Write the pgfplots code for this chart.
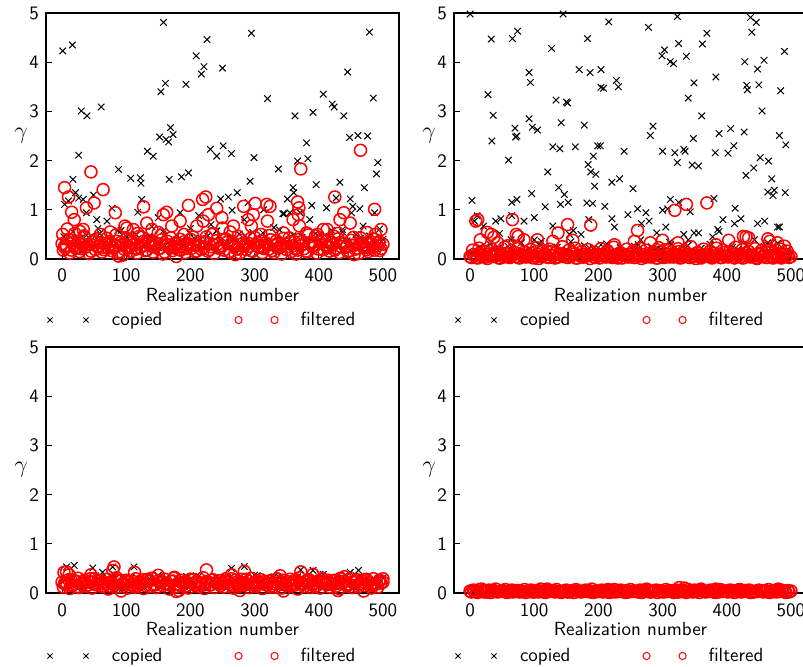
\documentclass[border=0pt]{standalone}
\usepackage{pgfplots}
\pgfplotsset{compat=1.18}
\pgfplotsset{
  gstyle/.style={
    scale only axis, width=176.5pt, height=123pt,
    xmin=-25, xmax=525, ymin=0, ymax=5,
    xtick={0,100,...,500}, ytick={0,1,...,5},
    tick pos=left, tick align=inside,
    major tick length=3pt,
    every tick/.style={black, line width=0.5pt},
    axis line style={line width=0.9pt},
    clip=false,
    /pgf/number format/assume math mode=true,
    tick label style={font=\fontsize{9.5}{11}\selectfont\sffamily},
    xticklabel style={anchor=base, yshift=-11.5pt},
    xlabel={Realization number},
    ylabel={$\gamma$},
    every axis x label/.style={at={(axis description cs:0.5,0)}, anchor=base, yshift=-21pt, font=\fontsize{9.5}{11}\selectfont\sffamily},
    every axis y label/.style={at={(axis description cs:0,0.5)}, anchor=center, xshift=-12.5pt, font=\fontsize{13}{15}\selectfont},
    legend columns=2,
    legend style={draw=none, fill=none, inner sep=0pt, outer sep=0pt, anchor=west, font=\fontsize{9.5}{11}\selectfont\sffamily, nodes={inner sep=0pt}, /tikz/every even column/.append style={column sep=36pt}},
  },
  cop/.style={only marks, mark=x, mark size=2.3pt, black, mark options={line width=0.5pt}},
  fil/.style={only marks, mark=o, mark size=3pt, red, mark options={line width=0.75pt}},
}
\pgfplotsset{legend image code/.code={\path[#1, draw=none, mark size=1.8pt, mark options={line width=0.5pt}] plot coordinates {(0pt,0pt) (18pt,0pt)}; \path[draw=none, fill=none] (-2pt,0pt) -- (31pt,0pt);}}
\begin{document}
\begin{tikzpicture}[x=1pt,y=1pt]
% ---------------- top left ----------------
\begin{axis}[gstyle, at={(23pt,-6.5pt)}, anchor=north west, legend style={at={(0,-0.248)}}]
\addplot[cop] coordinates {
(3,.45)(10,.28)(17,.55)(24,.33)(31,.19)(38,.48)(45,.38)(52,.26)(59,.52)(66,.41)
(73,.22)(80,.36)(87,.58)(94,.30)(101,.44)(108,.17)(115,.50)(122,.35)(129,.27)(136,.46)
(143,.40)(150,.23)(157,.56)(164,.32)(171,.15)(178,.49)(185,.37)(192,.29)(199,.53)(206,.42)
(213,.20)(220,.34)(227,.47)(234,.25)(241,.57)(248,.39)(255,.31)(262,.43)(269,.18)(276,.51)
(283,.36)(290,.28)(297,.54)(304,.41)(311,.24)(318,.45)(325,.33)(332,.21)(339,.59)(346,.38)
(353,.30)(360,.48)(367,.26)(374,.44)(381,.35)(388,.19)(395,.52)(402,.40)(409,.27)(416,.46)
(423,.32)(430,.23)(437,.55)(444,.37)(451,.29)(458,.50)(465,.42)(472,.16)(479,.47)(486,.34)
(493,.28)
(1,4.23)(16,4.35)(30,3.01)(39,2.91)(26,2.11)(61,3.09)(17,1.62)(88,1.82)(107,1.64)(122,1.65)
(123,1.54)(124,1.21)(133,2.19)(142,2.09)(152,2.48)(154,3.40)(158,4.81)(161,3.57)(162,2.43)(166,2.38)
(169,2.67)(173,2.53)(167,1.62)(186,1.67)(197,1.75)(193,3.55)(209,4.13)(217,3.76)(221,3.91)(226,4.46)
(231,2.23)(241,2.09)(250,3.88)(251,2.30)(264,2.14)(247,1.22)(259,1.26)(273,1.35)(265,0.99)(293,1.58)
(295,4.59)(299,2.06)(290,1.15)(320,3.26)(314,1.00)(337,1.83)(344,0.92)(346,0.92)(351,1.22)(360,1.45)
(363,2.91)(361,1.35)(367,1.99)(381,2.36)(383,2.04)(391,2.98)(396,1.51)(389,1.09)(386,0.80)(407,3.35)
(412,1.04)(421,3.15)(424,3.09)(427,1.24)(433,1.56)(439,2.91)(445,3.80)(448,2.47)(461,2.51)(449,1.22)
(453,1.07)(464,1.02)(471,1.45)(476,2.50)(479,4.61)(485,3.27)(490,1.73)(492,1.96)(487,0.94)(495,0.61)
(4,1.11)(10,1.18)(21,1.35)(26,1.24)(33,1.21)(49,1.30)(38,0.94)(54,0.80)(70,0.77)(78,1.03)
(118,0.95)(150,0.84)(184,0.94)(213,0.88)(232,0.70)(284,0.80)(313,0.53)(355,0.94)(371,0.94)(437,0.60)
(451,0.94)(469,0.67)(56,0.62)(92,0.58)(140,0.66)(200,0.62)(240,0.57)(330,0.64)(420,0.58)(500,0.40)
};
\addplot[fil] coordinates {
(0,.31)(5,.22)(10,.40)(15,.18)(20,.27)(25,.35)(30,.21)(35,.44)(40,.29)(45,.16)
(50,.38)(55,.25)(60,.33)(65,.19)(70,.42)(75,.28)(80,.23)(85,.36)(90,.15)(95,.30)
(100,.41)(105,.24)(110,.34)(115,.20)(120,.46)(125,.27)(130,.17)(135,.37)(140,.26)(145,.32)
(150,.21)(155,.39)(160,.14)(165,.29)(170,.43)(175,.25)(180,.31)(185,.18)(190,.35)(195,.22)
(200,.40)(205,.28)(210,.16)(215,.33)(220,.24)(225,.45)(230,.19)(235,.30)(240,.37)(245,.23)
(250,.27)(255,.41)(260,.15)(265,.34)(270,.26)(275,.20)(280,.38)(285,.29)(290,.32)(295,.17)
(300,.44)(305,.25)(310,.36)(315,.21)(320,.28)(325,.39)(330,.13)(335,.31)(340,.24)(345,.42)
(350,.19)(355,.35)(360,.27)(365,.22)(370,.40)(375,.30)(380,.16)(385,.33)(390,.26)(395,.47)
(400,.20)(405,.37)(410,.29)(415,.23)(420,.34)(425,.18)(430,.41)(435,.25)(440,.31)(445,.15)
(450,.38)(455,.28)(460,.22)(465,.43)(470,.27)(475,.19)(480,.36)(485,.24)(490,.32)(495,.17)(500,.30)
(2,.18)(7,.27)(12,.12)(17,.33)(22,.21)(27,.15)(32,.29)(37,.24)(42,.11)(47,.35)
(52,.19)(57,.26)(62,.14)(67,.31)(72,.22)(77,.17)(82,.28)(87,.13)(92,.34)(97,.20)
(102,.25)(107,.16)(112,.30)(117,.12)(122,.23)(127,.36)(132,.18)(137,.27)(142,.14)(147,.32)
(152,.21)(157,.10)(162,.29)(167,.24)(172,.17)(177,.33)(182,.19)(187,.26)(192,.13)(197,.31)
(202,.22)(207,.15)(212,.28)(217,.20)(222,.35)(227,.16)(232,.25)(237,.11)(242,.30)(247,.23)
(252,.18)(257,.34)(262,.14)(267,.27)(272,.21)(277,.12)(282,.32)(287,.19)(292,.26)(297,.16)
(302,.29)(307,.24)(312,.13)(317,.33)(322,.20)(327,.17)(332,.28)(337,.22)(342,.10)(347,.31)
(352,.25)(357,.15)(362,.35)(367,.18)(372,.27)(377,.21)(382,.14)(387,.30)(392,.23)(397,.12)
(402,.34)(407,.19)(412,.26)(417,.16)(422,.29)(427,.22)(432,.13)(437,.32)(442,.24)(447,.17)
(452,.28)(457,.20)(462,.11)(467,.33)(472,.25)(477,.15)(482,.30)(487,.18)(492,.27)(497,.21)
(4,.26)(14,.38)(24,.22)(34,.47)(44,.30)(54,.41)(64,.24)(74,.35)(84,.49)(94,.28)
(104,.37)(114,.21)(124,.44)(134,.32)(144,.25)(154,.48)(164,.36)(174,.23)(184,.40)(194,.29)
(204,.45)(214,.27)(224,.34)(234,.50)(244,.22)(254,.39)(264,.31)(274,.46)(284,.26)(294,.42)
(304,.33)(314,.24)(324,.48)(334,.37)(344,.28)(354,.43)(364,.21)(374,.36)(384,.49)(394,.30)
(404,.40)(414,.25)(424,.46)(434,.34)(444,.27)(454,.44)(464,.32)(474,.23)(484,.41)(494,.35)
(88,.06)(178,.05)(95,.08)(270,.09)(365,.10)(455,.09)
(4,1.45)(10,1.26)(15,0.95)(19,0.80)(45,1.77)(50,1.14)(64,1.41)(38,1.04)(8,0.61)(1,0.50)
(28,0.56)(33,0.60)(83,0.94)(98,0.67)(101,0.63)(111,0.60)(127,1.06)(132,0.73)(140,0.60)(158,0.90)
(163,0.95)(171,0.67)(184,0.77)(197,1.09)(210,0.67)(219,1.21)(224,1.26)(220,0.77)(228,0.90)(241,1.03)
(249,0.84)(250,0.63)(267,0.67)(283,1.07)(290,0.80)(298,0.90)(301,1.13)(295,0.67)(319,1.11)(324,1.07)
(320,0.77)(360,0.80)(367,1.16)(369,1.04)(368,0.90)(372,1.83)(370,0.67)(381,0.53)(407,0.60)(413,0.60)
(425,1.26)(433,0.80)(439,0.94)(449,0.73)(465,2.21)(487,1.01)(488,0.50)(497,0.60)
(20,.52)(60,.50)(75,.55)(118,.52)(150,.54)(190,.50)(235,.52)(262,.55)(310,.50)(345,.53)(398,.50)(430,.52)(475,.54)
};
\legend{copied,filtered}
\end{axis}
% ---------------- top right ----------------
\begin{axis}[gstyle, at={(227pt,-6.5pt)}, anchor=north west, legend style={at={(0,-0.248)}}]
\addplot[cop] coordinates {
(3,.12)(10,.05)(17,.22)(24,.08)(31,.30)(38,.03)(45,.17)(52,.10)(59,.26)(66,.06)
(73,.14)(80,.33)(87,.04)(94,.20)(101,.09)(108,.28)(115,.02)(122,.15)(129,.11)(136,.24)
(143,.07)(150,.19)(157,.35)(164,.05)(171,.13)(178,.27)(185,.08)(192,.21)(199,.03)(206,.16)
(213,.31)(220,.10)(227,.06)(234,.23)(241,.12)(248,.04)(255,.18)(262,.29)(269,.07)(276,.14)
(283,.25)(290,.02)(297,.20)(304,.09)(311,.34)(318,.05)(325,.16)(332,.11)(339,.27)(346,.06)
(353,.13)(360,.22)(367,.04)(374,.30)(381,.08)(388,.18)(395,.12)(402,.03)(409,.24)(416,.10)
(423,.15)(430,.28)(437,.06)(444,.19)(451,.02)(458,.26)(465,.09)(472,.14)(479,.32)(486,.05)
(493,.17)
(0,4.98)(33,4.47)(66,4.48)(74,4.63)(127,4.28)(145,4.98)(183,4.48)(216,4.82)(278,4.71)(323,4.93)
(437,4.91)(446,4.81)(439,4.61)(369,4.59)(362,4.37)(325,4.38)(303,4.25)(299,4.13)(312,4.01)(317,3.97)
(337,4.12)(490,4.22)(458,4.04)(428,4.01)(448,3.86)(92,3.79)(94,3.59)(170,3.85)(187,3.79)(204,3.85)
(204,3.49)(208,3.47)(228,3.63)(231,3.50)(383,3.70)(349,3.58)(340,3.27)(431,3.53)(432,3.44)(450,3.54)
(484,3.42)(455,3.01)(28,3.34)(36,2.92)(34,2.40)(60,2.01)(70,2.66)(71,2.48)(73,2.50)(92,2.85)
(97,2.68)(105,2.62)(134,3.23)(150,3.19)(152,3.17)(142,2.77)(129,2.28)(140,2.24)(164,2.28)(178,2.72)
(184,1.92)(188,1.77)(196,1.72)(192,2.09)(199,2.30)(203,2.30)(194,1.48)(121,1.77)(138,1.45)(147,1.31)
(153,1.15)(141,1.11)(96,1.33)(65,1.15)(73,1.21)(3,1.19)(117,1.06)(182,1.14)(191,1.13)(210,1.07)
(221,1.56)(233,1.63)(240,2.19)(254,1.43)(261,1.02)(274,0.94)(281,2.51)(285,2.70)(300,2.19)(319,2.16)
(323,1.96)(333,2.23)(335,2.19)(346,1.91)(356,1.89)(348,2.45)(361,2.91)(382,2.16)(388,2.55)(402,2.15)
(406,2.65)(411,2.30)(427,2.58)(430,1.70)(442,1.85)(452,2.06)(465,1.99)(482,2.51)(492,2.32)(470,1.63)
(464,1.36)(474,1.40)(472,1.29)(491,1.35)(380,1.23)(312,1.21)(308,1.02)(300,0.99)(325,1.15)(343,0.96)
(413,1.03)(412,0.72)(422,0.82)(394,0.80)(386,0.60)(448,0.72)(459,0.77)(479,0.65)(482,0.65)(11,0.88)
(7,0.77)(21,0.67)(40,0.77)(48,0.82)(46,0.52)(65,0.88)(84,0.77)(100,0.84)(129,0.67)(161,0.58)
(173,0.50)(185,0.80)(221,0.82)(225,0.65)(246,0.90)(267,0.72)(279,0.77)(291,0.53)(305,0.65)(333,0.50)
(340,0.39)(349,0.53)(356,0.53)(378,0.45)(388,0.56)(15,0.24)(43,0.22)(64,0.39)(100,0.39)(111,0.36)
(155,0.50)(186,0.22)(204,0.29)(256,0.26)(266,0.39)(292,0.22)(313,0.29)(360,0.22)(417,0.19)(443,0.39)
(464,0.33)(496,0.11)
};
\addplot[fil] coordinates {
(0,.05)(5,.09)(10,.03)(15,.12)(20,.07)(25,.04)(30,.10)(35,.06)(40,.14)(45,.02)
(50,.08)(55,.11)(60,.04)(65,.06)(70,.13)(75,.03)(80,.09)(85,.07)(90,.05)(95,.12)
(100,.02)(105,.10)(110,.06)(115,.08)(120,.04)(125,.15)(130,.07)(135,.03)(140,.11)(145,.05)
(150,.09)(155,.06)(160,.13)(165,.02)(170,.08)(175,.04)(180,.10)(185,.07)(190,.12)(195,.03)
(200,.06)(205,.09)(210,.05)(215,.14)(220,.04)(225,.08)(230,.02)(235,.11)(240,.07)(245,.05)
(250,.10)(255,.03)(260,.12)(265,.06)(270,.09)(275,.04)(280,.08)(285,.13)(290,.02)(295,.07)
(300,.05)(305,.11)(310,.04)(315,.09)(320,.06)(325,.15)(330,.03)(335,.08)(340,.10)(345,.05)
(350,.07)(355,.12)(360,.02)(365,.06)(370,.09)(375,.04)(380,.11)(385,.08)(390,.03)(395,.13)
(400,.05)(405,.07)(410,.10)(415,.04)(420,.09)(425,.02)(430,.12)(435,.06)(440,.08)(445,.03)
(450,.11)(455,.05)(460,.07)(465,.14)(470,.04)(475,.09)(480,.06)(485,.02)(490,.10)(495,.08)(500,.05)
(2,.03)(7,.06)(12,.02)(17,.08)(22,.04)(27,.01)(32,.07)(37,.05)(42,.09)(47,.02)
(52,.04)(57,.06)(62,.03)(67,.10)(72,.05)(77,.02)(82,.07)(87,.04)(92,.08)(97,.03)
(102,.06)(107,.01)(112,.05)(117,.09)(122,.03)(127,.07)(132,.02)(137,.04)(142,.08)(147,.06)
(152,.03)(157,.05)(162,.10)(167,.02)(172,.06)(177,.04)(182,.07)(187,.01)(192,.05)(197,.09)
(202,.02)(207,.08)(212,.04)(217,.06)(222,.03)(227,.07)(232,.05)(237,.02)(242,.09)(247,.04)
(252,.06)(257,.03)(262,.08)(267,.01)(272,.05)(277,.07)(282,.04)(287,.10)(292,.02)(297,.06)
(302,.03)(307,.09)(312,.05)(317,.04)(322,.07)(327,.02)(332,.06)(337,.08)(342,.03)(347,.05)
(352,.01)(357,.07)(362,.04)(367,.09)(372,.06)(377,.02)(382,.05)(387,.08)(392,.03)(397,.06)
(402,.04)(407,.10)(412,.02)(417,.07)(422,.05)(427,.03)(432,.08)(437,.04)(442,.06)(447,.01)
(452,.09)(457,.05)(462,.03)(467,.07)(472,.02)(477,.06)(482,.04)(487,.08)(492,.05)(497,.03)
(4,.18)(14,.22)(24,.15)(34,.20)(44,.13)(54,.24)(64,.17)(74,.21)(84,.14)(94,.19)
(104,.23)(114,.16)(124,.20)(134,.13)(144,.25)(154,.18)(164,.22)(174,.15)(184,.19)(194,.14)
(204,.21)(214,.17)(224,.24)(234,.13)(244,.20)(254,.16)(264,.22)(274,.18)(284,.14)(294,.23)
(304,.19)(314,.15)(324,.21)(334,.17)(344,.25)(354,.13)(364,.20)(374,.16)(384,.22)(394,.18)
(404,.14)(414,.24)(424,.19)(434,.15)(444,.21)(454,.17)(464,.23)(474,.13)(484,.20)(494,.16)
(12,0.80)(9,0.77)(66,0.80)(16,0.39)(27,0.54)(33,0.50)(37,0.44)(72,0.50)(75,0.46)(84,0.39)
(105,0.39)(129,0.36)(137,0.53)(152,0.70)(160,0.38)(188,0.69)(261,0.58)(256,0.36)(281,0.33)(300,0.38)
(319,0.99)(337,1.11)(369,1.14)(324,0.33)(383,0.29)(403,0.38)(426,0.46)(430,0.45)(434,0.43)(464,0.41)
(467,0.36)(479,0.33)(490,0.26)(225,0.29)(43,0.33)(59,0.27)
};
\legend{copied,filtered}
\end{axis}
% ---------------- bottom left ----------------
\begin{axis}[gstyle, at={(23pt,-173.5pt)}, anchor=north west, legend style={at={(0,-0.256)}}]
\addplot[cop] coordinates {
(3,.25)(10,.14)(17,.32)(24,.19)(31,.10)(38,.28)(45,.22)(52,.35)(59,.16)(66,.27)
(73,.12)(80,.30)(87,.20)(94,.09)(101,.26)(108,.33)(115,.17)(122,.23)(129,.11)(136,.29)
(143,.21)(150,.36)(157,.15)(164,.24)(171,.08)(178,.31)(185,.18)(192,.27)(199,.13)(206,.22)
(213,.34)(220,.19)(227,.10)(234,.28)(241,.25)(248,.16)(255,.32)(262,.21)(269,.12)(276,.30)
(283,.17)(290,.26)(297,.09)(304,.35)(311,.23)(318,.14)(325,.29)(332,.20)(339,.31)(346,.11)
(353,.24)(360,.18)(367,.33)(374,.15)(381,.27)(388,.10)(395,.22)(402,.38)(409,.19)(416,.28)
(423,.13)(430,.25)(437,.31)(444,.16)(451,.21)(458,.09)(465,.34)(472,.26)(479,.14)(486,.29)
(493,.20)
(7,.53)(19,.56)(48,.51)(63,.42)(79,.53)(81,.37)(112,.53)(194,.34)(209,.35)(264,.50)
(284,.54)(372,.47)(391,.46)(407,.38)(449,.42)(462,.46)(500,.30)(240,.32)(300,.36)(330,.33)
};
\addplot[fil] coordinates {
(0,.22)(5,.18)(10,.27)(15,.15)(20,.24)(25,.30)(30,.19)(35,.26)(40,.16)(45,.23)
(50,.29)(55,.20)(60,.25)(65,.14)(70,.28)(75,.21)(80,.17)(85,.31)(90,.24)(95,.19)
(100,.26)(105,.22)(110,.16)(115,.29)(120,.20)(125,.27)(130,.15)(135,.23)(140,.30)(145,.18)
(150,.25)(155,.21)(160,.28)(165,.17)(170,.24)(175,.32)(180,.19)(185,.26)(190,.22)(195,.15)
(200,.28)(205,.20)(210,.24)(215,.18)(220,.31)(225,.23)(230,.16)(235,.27)(240,.21)(245,.25)
(250,.19)(255,.29)(260,.22)(265,.15)(270,.26)(275,.20)(280,.28)(285,.17)(290,.24)(295,.30)
(300,.21)(305,.18)(310,.27)(315,.23)(320,.16)(325,.25)(330,.19)(335,.29)(340,.22)(345,.26)
(350,.15)(355,.28)(360,.20)(365,.24)(370,.31)(375,.18)(380,.23)(385,.27)(390,.16)(395,.21)
(400,.25)(405,.29)(410,.19)(415,.22)(420,.17)(425,.26)(430,.20)(435,.28)(440,.24)(445,.15)
(450,.30)(455,.21)(460,.27)(465,.18)(470,.23)(475,.25)(480,.16)(485,.29)(490,.20)(495,.26)(500,.22)
(2,.12)(7,.20)(12,.09)(17,.16)(22,.24)(27,.11)(32,.18)(37,.14)(42,.22)(47,.10)
(52,.17)(57,.26)(62,.13)(67,.19)(72,.08)(77,.21)(82,.15)(87,.12)(92,.25)(97,.18)
(102,.10)(107,.16)(112,.23)(117,.14)(122,.20)(127,.09)(132,.27)(137,.13)(142,.17)(147,.11)
(152,.22)(157,.15)(162,.19)(167,.08)(172,.24)(177,.12)(182,.18)(187,.21)(192,.14)(197,.10)
(202,.26)(207,.16)(212,.13)(217,.20)(222,.09)(227,.23)(232,.17)(237,.11)(242,.19)(247,.15)
(252,.12)(257,.25)(262,.18)(267,.10)(272,.22)(277,.14)(282,.16)(287,.28)(292,.11)(297,.19)
(302,.13)(307,.21)(312,.09)(317,.17)(322,.24)(327,.15)(332,.12)(337,.20)(342,.10)(347,.18)
(352,.23)(357,.14)(362,.16)(367,.08)(372,.21)(377,.13)(382,.26)(387,.11)(392,.19)(397,.15)
(402,.10)(407,.22)(412,.17)(417,.12)(422,.25)(427,.14)(432,.09)(437,.20)(442,.16)(447,.18)
(452,.11)(457,.24)(462,.13)(467,.19)(472,.15)(477,.21)(482,.10)(487,.17)(492,.12)(497,.20)
(4,.20)(14,.26)(24,.13)(34,.23)(44,.29)(54,.17)(64,.22)(74,.14)(84,.27)(94,.19)
(104,.24)(114,.12)(124,.21)(134,.28)(144,.16)(154,.25)(164,.19)(174,.30)(184,.15)(194,.22)
(204,.27)(214,.13)(224,.20)(234,.26)(244,.18)(254,.23)(264,.29)(274,.14)(284,.21)(294,.17)
(304,.25)(314,.20)(324,.12)(334,.28)(344,.22)(354,.16)(364,.27)(374,.19)(384,.24)(394,.13)
(404,.21)(414,.26)(424,.18)(434,.30)(444,.14)(454,.23)(464,.19)(474,.28)(484,.16)(494,.25)
(92,.04)(178,.03)(182,.05)(277,.05)(345,.04)(430,.05)(470,.04)
(3,.42)(7,.43)(11,.37)(45,.37)(79,.46)(81,.53)(113,.42)(225,.47)(264,.37)(284,.44)
(372,.43)(391,.38)(500,.29)(150,.36)(340,.35)(440,.33)
};
\legend{copied,filtered}
\end{axis}
% ---------------- bottom right ----------------
\begin{axis}[gstyle, at={(227pt,-173.5pt)}, anchor=north west, legend style={at={(0,-0.256)}}]
\addplot[cop] coordinates {
(3,.05)(10,.02)(17,.07)(24,.03)(31,.06)(38,.01)(45,.04)(52,.08)(59,.02)(66,.05)
(73,.03)(80,.06)(87,.01)(94,.04)(101,.07)(108,.02)(115,.05)(122,.03)(129,.06)(136,.01)
(143,.04)(150,.08)(157,.02)(164,.05)(171,.03)(178,.06)(185,.01)(192,.04)(199,.07)(206,.02)
(213,.05)(220,.03)(227,.06)(234,.02)(241,.04)(248,.08)(255,.01)(262,.05)(269,.03)(276,.06)
(283,.02)(290,.04)(297,.07)(304,.03)(311,.05)(318,.01)(325,.06)(332,.04)(339,.02)(346,.05)
(353,.08)(360,.03)(367,.06)(374,.02)(381,.04)(388,.07)(395,.01)(402,.05)(409,.03)(416,.06)
(423,.02)(430,.04)(437,.05)(444,.03)(451,.07)(458,.01)(465,.06)(472,.04)(479,.02)(486,.05)
(493,.03)
(322,.10)(328,.12)(333,.09)(30,.08)(150,.07)
};
\addplot[fil] coordinates {
(0,.04)(5,.06)(10,.03)(15,.07)(20,.05)(25,.02)(30,.06)(35,.04)(40,.08)(45,.03)
(50,.05)(55,.07)(60,.02)(65,.06)(70,.04)(75,.05)(80,.03)(85,.07)(90,.04)(95,.06)
(100,.02)(105,.05)(110,.08)(115,.03)(120,.06)(125,.04)(130,.05)(135,.07)(140,.03)(145,.04)
(150,.06)(155,.02)(160,.05)(165,.07)(170,.04)(175,.03)(180,.06)(185,.05)(190,.08)(195,.04)
(200,.03)(205,.06)(210,.04)(215,.05)(220,.02)(225,.07)(230,.04)(235,.06)(240,.03)(245,.05)
(250,.07)(255,.04)(260,.03)(265,.06)(270,.05)(275,.08)(280,.02)(285,.04)(290,.06)(295,.05)
(300,.03)(305,.07)(310,.05)(315,.04)(320,.06)(325,.02)(330,.05)(335,.03)(340,.07)(345,.04)
(350,.06)(355,.05)(360,.08)(365,.03)(370,.04)(375,.06)(380,.02)(385,.05)(390,.07)(395,.04)
(400,.03)(405,.06)(410,.05)(415,.04)(420,.07)(425,.03)(430,.05)(435,.06)(440,.02)(445,.04)
(450,.06)(455,.04)(460,.05)(465,.07)(470,.03)(475,.05)(480,.04)(485,.06)(490,.03)(495,.05)(500,.04)
(2,.02)(7,.03)(12,.01)(17,.04)(22,.02)(27,.03)(32,.01)(37,.05)(42,.02)(47,.03)
(52,.04)(57,.01)(62,.03)(67,.02)(72,.05)(77,.02)(82,.03)(87,.01)(92,.04)(97,.02)
(102,.03)(107,.02)(112,.04)(117,.01)(122,.03)(127,.05)(132,.02)(137,.03)(142,.01)(147,.04)
(152,.02)(157,.03)(162,.01)(167,.04)(172,.02)(177,.03)(182,.05)(187,.02)(192,.01)(197,.03)
(202,.04)(207,.02)(212,.03)(217,.01)(222,.05)(227,.02)(232,.04)(237,.03)(242,.01)(247,.02)
(252,.03)(257,.04)(262,.02)(267,.01)(272,.03)(277,.05)(282,.02)(287,.04)(292,.01)(297,.03)
(302,.02)(307,.03)(312,.04)(317,.01)(322,.02)(327,.05)(332,.03)(337,.01)(342,.04)(347,.02)
(352,.03)(357,.01)(362,.05)(367,.02)(372,.03)(377,.04)(382,.01)(387,.02)(392,.03)(397,.04)
(402,.02)(407,.03)(412,.01)(417,.05)(422,.02)(427,.04)(432,.03)(437,.01)(442,.02)(447,.03)
(452,.04)(457,.02)(462,.03)(467,.01)(472,.05)(477,.02)(482,.03)(487,.04)(492,.01)(497,.02)
(326,.11)(334,.10)(18,.08)(120,.08)(215,.07)(383,.08)(420,.07)(480,.08)
};
\legend{copied,filtered}
\end{axis}
\pgfresetboundingbox
\path[use as bounding box] (0pt,0pt) rectangle (401.5pt,-333pt);
\end{tikzpicture}
\end{document}
